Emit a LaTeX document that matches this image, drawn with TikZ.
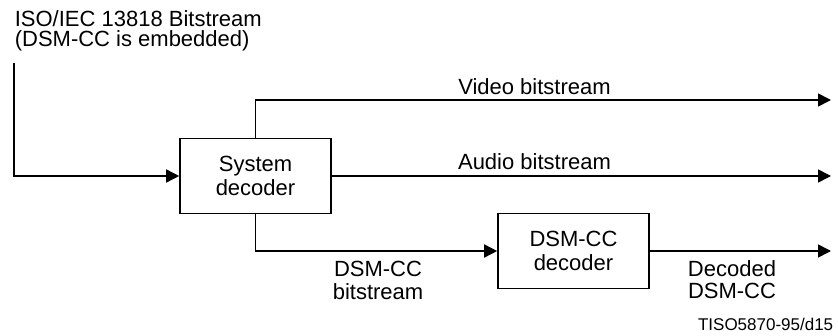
\documentclass[tikz,border=0pt]{standalone}
\usepackage{fontspec}
\setmainfont{Liberation Sans}
\usetikzlibrary{arrows.meta}

\begin{document}
\begin{tikzpicture}[x=1pt,y=-1pt,line width=1.6pt,
  every node/.style={font=\fontsize{22}{24}\selectfont,inner sep=0pt},
  box/.style={draw,minimum width=151pt,minimum height=75pt,align=center},
  flow/.style={-{Triangle[length=13pt,width=13pt]}}]
\useasboundingbox (0,0) rectangle (838,336);

\node[box] (sys) at (255.5,176) {System\\decoder};
\node[box] (dsm) at (573.5,251) {DSM-CC\\decoder};

\coordinate (in) at (14,63);
\coordinate (video) at (831,100);
\coordinate (audio) at (831,176);
\coordinate (decoded) at (831,251);

\draw[flow] (in) |- (sys.west);
\draw[flow] (sys.north) |- (video);
\draw[flow] (sys.east) -- (audio);
\draw[flow] (sys.south) |- (dsm.west);
\draw[flow] (dsm.east) -- (decoded);

% multi-line labels sit on their last baseline
\node[anchor=base west,align=left,font=\fontsize{22}{20.5}\selectfont] (src) at (14,47) {ISO/IEC 13818 Bitstream\\(DSM-CC is embedded)};
\node[anchor=base] (vlbl) at (534.5,95) {Video bitstream};
\node[anchor=base] (albl) at (534.5,170) {Audio bitstream};
\node[anchor=base,align=center,font=\fontsize{22}{23}\selectfont] (dlbl) at (378,300) {DSM-CC\\bitstream};
\node[anchor=base,align=center,font=\fontsize{22}{22.5}\selectfont] (olbl) at (732,299) {Decoded\\DSM-CC};
\node[anchor=base east,font=\fontsize{17}{20}\selectfont] (tag) at (834,331) {TISO5870-95/d15};

\end{tikzpicture}
\end{document}
